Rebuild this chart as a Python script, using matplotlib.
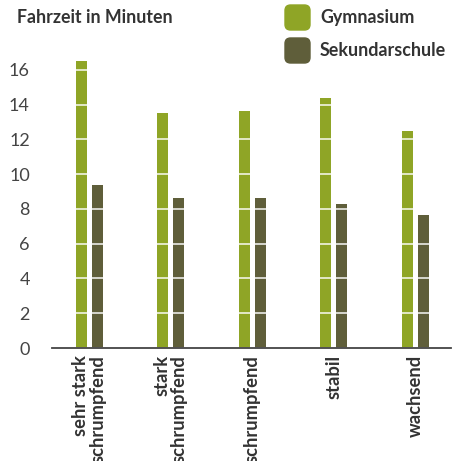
import matplotlib.pyplot as plt
import numpy as np
from matplotlib.patches import FancyBboxPatch

categories = ["sehr stark\nschrumpfend", "stark\nschrumpfend", "schrumpfend", "stabil", "wachsend"]
gymnasium = [16.5, 13.5, 13.65, 14.4, 12.5]
sekundarschule = [9.4, 8.65, 8.65, 8.3, 7.65]
yticks = [0, 2, 4, 6, 8, 10, 12, 14, 16]

c_gym = "#8fa526"
c_sek = "#5f5e3a"
txt = "#333333"

plt.rcParams['font.family'] = ['Lato', 'DejaVu Sans']

W, H = 460, 461
fig = plt.figure(figsize=(4.6, 4.61), dpi=100)
ax = fig.add_axes([52 / W, 113 / H, 399 / W, 295.4 / H])

x = np.arange(len(categories))
w = 0.135
off = 0.098
ax.bar(x - off, gymnasium, w, color=c_gym, zorder=1)
ax.bar(x + off, sekundarschule, w, color=c_sek, zorder=1)

ax.set_xlim(-0.46, 4.44)
ax.set_ylim(0, 17)
ax.set_yticks(yticks)
ax.yaxis.grid(True, color="white", lw=1.4, alpha=0.75, zorder=2)
ax.set_axisbelow(False)
for s in ["top", "right", "left"]:
    ax.spines[s].set_visible(False)
ax.spines["bottom"].set_color("#444444")
ax.spines["bottom"].set_linewidth(1.3)
ax.spines["bottom"].set_zorder(3)

ax.tick_params(axis="y", length=0, pad=16, labelsize=13, labelcolor="#444444")
ax.tick_params(axis="x", length=0, pad=5)
ax.set_xticks(x)
ax.set_xticklabels(categories, rotation=90, fontsize=13.2, fontweight="bold",
                   color=txt, va="top", ha="center", multialignment="right",
                   linespacing=1.0)

fig.text(17 / W, 1 - 9 / H, "Fahrzeit in Minuten", fontsize=12.8, fontweight="bold",
         color=txt, va="top", ha="left")

# legend
for i, (lab, col) in enumerate([("Gymnasium", c_gym), ("Sekundarschule", c_sek)]):
    y0 = 5 + i * 33
    box = FancyBboxPatch((285 / W, 1 - (y0 + 25) / H), 25 / W, 25 / H,
                         boxstyle="round,pad=0,rounding_size=0.012",
                         transform=fig.transFigure, color=col)
    fig.patches.append(box)
    fig.text(320 / W, 1 - (y0 + 12.5) / H, lab, fontsize=12.9, fontweight="bold",
             color=txt, va="center", ha="left")

fig.savefig("out.png", dpi=100)
